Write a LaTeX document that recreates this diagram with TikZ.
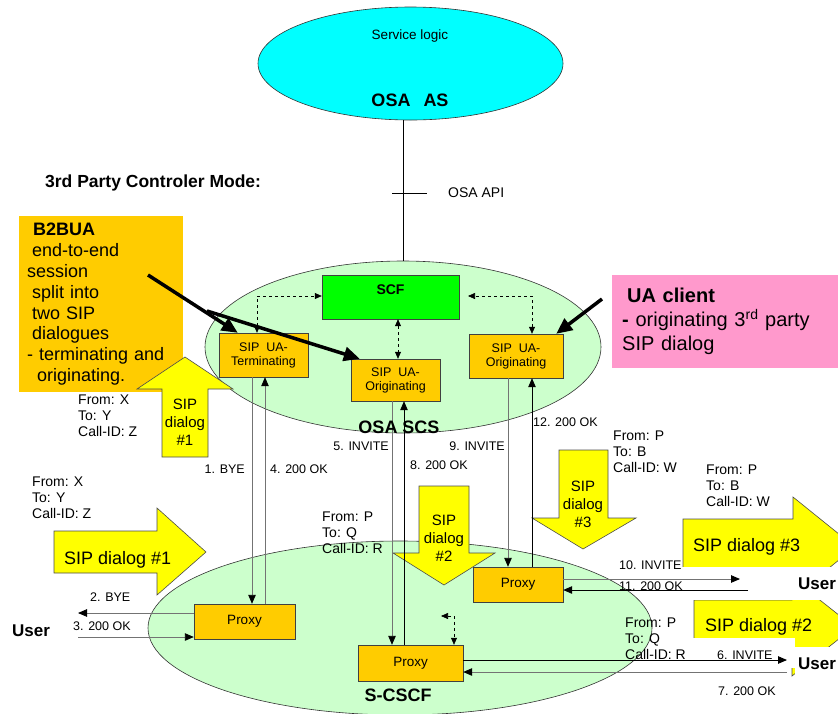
\documentclass[tikz,border=0pt]{standalone}
\usepackage{fontspec}
\setmainfont{Liberation Sans}
\usetikzlibrary{arrows.meta,shapes.geometric}
\definecolor{asblue}{HTML}{00FFFF}
\definecolor{scsgreen}{HTML}{CCFFCC}
\definecolor{scfgreen}{HTML}{00FF00}
\definecolor{uaorange}{HTML}{FFCC00}
\definecolor{sipyellow}{HTML}{FFFF00}
\definecolor{clientpink}{HTML}{FF99CC}
\newcommand\fsz[2]{\fontsize{#1}{#2}\selectfont}

\begin{document}
\begin{tikzpicture}[x=1pt,y=-1pt,
  box/.style={draw=black!75,fill=uaorange,inner sep=0pt,align=center,font=\fsz{12.5}{14}},
  prox/.style={box,font=\fsz{13.5}{15}},
  area/.style={ellipse,draw=black!80,line width=0.6pt,fill=scsgreen,inner sep=0pt},
  lbl/.style={inner sep=0pt,font=\fsz{12.5}{14}},
  hdr/.style={inner sep=0pt,align=left,font=\fsz{14}{16}},
  title/.style={inner sep=0pt,font=\fsz{18}{20}\bfseries},
  usr/.style={inner sep=0pt,anchor=west,font=\fsz{17}{19}\bfseries},
  sipbig/.style={draw=black!70,line width=0.6pt,fill=sipyellow},
  siptxt/.style={inner sep=0pt,align=center,font=\fsz{15}{18}},
  sipwide/.style={inner sep=0pt,anchor=west,font=\fsz{18}{20}},
  sig/.style={draw=black!55,line width=0.9pt,-{Triangle[length=9pt,width=7.5pt,black]}},
  sigk/.style={sig,draw=black},
  dsh/.style={dashed,line width=0.6pt,{Triangle[length=7pt,width=6pt]}-{Triangle[length=7pt,width=6pt]}},
  fat/.style={line width=3.5pt,-{Triangle[length=16pt,width=14pt]}}]

\useasboundingbox (0,0) rectangle (838,713);
\clip (0,0) rectangle (838,713);

% OSA application server
\node[ellipse,draw=black!80,line width=0.6pt,fill=asblue,inner sep=0pt,minimum width=305pt,minimum height=113pt] (as) at (410.5,63.5) {};
\node[lbl,font=\fsz{13.5}{15}] (slogic) at (410,36) {Service logic};
\node[title] (asname) at (410,100) {OSA\hspace{13pt}AS};

\node[inner sep=0pt,anchor=west,font=\fsz{17.5}{20}\bfseries] (mode) at (45,183) {3rd Party Controler Mode:};

% the two green areas
\coordinate (api) at (403,193);
\node[area,minimum width=396pt,minimum height=172pt] (scs) at (403,347) {};
\node[area,minimum width=504pt,minimum height=174pt] (cscf) at (400,628) {};
\draw[line width=0.6pt] (as.south -| api) -- (scs.north -| api);
\draw[line width=0.6pt] ([xshift=-11pt]api) -- ([xshift=24pt]api);
\node[inner sep=0pt,anchor=west,font=\fsz{14}{16}] (apitxt) at (448,193) {OSA API};

% call-outs
\node[fill=uaorange,anchor=north west,minimum width=164pt,minimum height=176pt,text width=148pt,inner xsep=8pt,inner ysep=0pt,align=left,font=\fsz{18}{20.8}] (b2bua) at (19,216)
  {{\bfseries\hspace*{6pt}B2BUA}\\ \hspace*{5pt}end-to-end\\ session\\ \hspace*{5pt}split into\\ \hspace*{5pt}two SIP\\ \hspace*{5pt}dialogues\\ - terminating and\\ \hspace*{10pt}originating.};
\node[fill=clientpink,anchor=north west,minimum width=233pt,minimum height=93pt,text width=213pt,inner xsep=10pt,inner ysep=0pt,align=left,font=\fsz{20}{24}] (client) at (612,275)
  {{\bfseries\hspace*{5pt}UA client}\\ {\bfseries -} originating 3\textsuperscript{rd} party\\ SIP dialog};

% SIP dialog block arrows
\filldraw[sipbig] (162,457) -- (162,389) -- (137,389) -- (185,357) -- (233,389) -- (208,389) -- (208,457) -- cycle;
\filldraw[sipbig] (54,531) -- (157,531) -- (157,508) -- (206,552) -- (157,595) -- (157,573) -- (54,573) -- cycle;
\filldraw[sipbig] (419,486) -- (469,486) -- (469,553) -- (495,553) -- (444,585) -- (393,553) -- (419,553) -- cycle;
\filldraw[sipbig] (559,450) -- (608,450) -- (608,518) -- (636,518) -- (583,549) -- (532,518) -- (559,518) -- cycle;
\filldraw[sipbig] (683,519) -- (793,519) -- (793,497) -- (855,547) -- (793,597) -- (793,575) -- (683,575) -- cycle;
\filldraw[sipbig] (694,600) -- (792,600) -- (792,578) -- (854,627) -- (792,676) -- (792,655) -- (694,655) -- cycle;
\node[siptxt] (d1up) at (185,422) {SIP\\dialog\\\#1};
\node[siptxt] (d2dn) at (444,538) {SIP\\dialog\\\#2};
\node[siptxt] (d3dn) at (583,504) {SIP\\dialog\\\#3};
\node[sipwide] (d1rt) at (64,560) {SIP dialog \#1};
\node[sipwide] (d3rt) at (693,547) {SIP dialog \#3};

\fill[white] (680,567) rectangle (845,600);
\node[sipwide] (d2rt) at (705,627) {SIP dialog \#2};
\fill[white] (680,638) rectangle (795,668);
\fill[white] (795,647) rectangle (845,682);

% functional boxes
\node[box,fill=scfgreen,minimum width=137pt,minimum height=44pt,font=\fsz{14}{16}\bfseries,text height=10pt,text depth=16pt] (scf) at (390.5,297) {SCF};
\node[box,minimum width=89pt,minimum height=44pt] (uaterm) at (263.5,355) {SIP~ UA-\\Terminating};
\node[box,minimum width=89pt,minimum height=42pt] (uaorig) at (395.5,380) {SIP~ UA-\\Originating};
\node[box,minimum width=94pt,minimum height=44pt] (uaorigR) at (516,356) {SIP~ UA-\\Originating};
\node[prox,minimum width=101pt,minimum height=35pt] (proxyL) at (244.5,621.5) {Proxy};
\node[prox,minimum width=90pt,minimum height=35pt] (proxyR) at (518,584.5) {Proxy};
\node[prox,minimum width=105pt,minimum height=36pt] (proxyS) at (410.5,663) {Proxy};

% internal dashed links
\coordinate (dl) at (257,296);
\coordinate (dr) at (532,296);
\coordinate (drs) at (468,296);
\coordinate (dm) at (398,0);
\draw[dsh] (uaterm.north -| dl) -- (dl) -- (scf.west |- dl);
\draw[dsh] (uaorigR.north -| dr) -- (dr) -- (drs);
\draw[dsh] (scf.south -| dm) -- (uaorig.north -| dm);
\coordinate (dsc) at (441,616);
\coordinate (dsx) at (454,616);
\draw[dsh] (dsc) -- (dsx) -- (proxyS.north -| dsx);

% SIP messages
\coordinate (bye) at (252,0);
\coordinate (ok4) at (265,0);
\coordinate (inv5) at (392,0);
\coordinate (ok8) at (404,0);
\coordinate (inv9) at (508,0);
\coordinate (ok12) at (532,0);
\coordinate (bye2) at (78,613);
\coordinate (ok3) at (78,637);
\coordinate (inv10) at (740,579);
\coordinate (ok11) at (748,590);
\coordinate (inv6) at (787,660);
\coordinate (ok7) at (787,672);
\draw[sig] (uaterm.south -| bye) -- (proxyL.north -| bye);
\draw[sig] (proxyL.north -| ok4) -- (uaterm.south -| ok4);
\draw[sig] (uaorig.south -| inv5) -- (proxyS.north -| inv5);
\draw[sigk] (proxyS.north -| ok8) -- (uaorig.south -| ok8);
\draw[sig] (uaorigR.south -| inv9) -- (proxyR.north -| inv9);
\draw[sigk] (proxyR.north -| ok12) -- (uaorigR.south -| ok12);
\draw[sig] (proxyL.west |- bye2) -- (bye2);
\draw[sig] (ok3) -- (proxyL.west |- ok3);
\draw[sig] (proxyR.east |- inv10) -- (inv10);
\draw[sigk] (ok11) -- (proxyR.east |- ok11);
\draw[sigk] (proxyS.east |- inv6) -- (inv6);
\draw[sig] (ok7) -- (proxyS.east |- ok7);

\node[lbl,anchor=east] (m1) at (245,469) {1. BYE};
\node[lbl,anchor=west] (m4) at (270,469) {4. 200 OK};
\node[lbl,anchor=west] (m2) at (90,597) {2. BYE};
\node[lbl,anchor=west] (m3) at (73,626) {3. 200 OK};
\node[lbl,anchor=east] (m5) at (389,446) {5. INVITE};
\node[lbl,anchor=west] (m8) at (410,465) {8. 200 OK};
\node[lbl,anchor=east] (m9) at (505,446) {9. INVITE};
\node[lbl,anchor=west] (m12) at (533,422) {12. 200 OK};
\node[lbl,anchor=west] (m10) at (619,565) {10. INVITE};
\node[lbl,anchor=west] (m11) at (619,586) {11. 200 OK};
\node[lbl,anchor=west] (m6) at (717,655) {6. INVITE};
\node[lbl,anchor=west] (m7) at (718,691) {7. 200 OK};

% dialog identifiers
\node[hdr,anchor=west] (hxa) at (78,416) {From: X\\To: Y\\Call-ID: Z};
\node[hdr,anchor=west] (hxb) at (32,498) {From: X\\To: Y\\Call-ID: Z};
\node[hdr,anchor=west] (hqa) at (322,533) {From: P\\To: Q\\Call-ID: R};
\node[hdr,anchor=west] (hqb) at (625,639) {From: P\\To: Q\\Call-ID: R};
\node[hdr,anchor=west] (hwa) at (613,452) {From: P\\To: B\\Call-ID: W};
\node[hdr,anchor=west] (hwb) at (706,486) {From: P\\To: B\\Call-ID: W};

\node[usr] (userL) at (12,631) {User};
\node[usr] (userB) at (798,584) {User};
\node[usr] (userQ) at (798,664) {User};

% pointers from the call-outs
\coordinate (bq) at (148,275);
\coordinate (bfork) at (207,311);
\coordinate (cq) at (602,299);
\draw[fat] (bq) -- ([xshift=19pt]uaterm.north west);
\draw[fat] (bfork) -- ([xshift=9pt]uaorig.north west);
\draw[fat] (cq) -- ([xshift=-7pt]uaorigR.north east);

\node[title] (scsname) at (399,427) {OSA SCS};
\node[title] (cscfname) at (398,695) {S-CSCF};
\end{tikzpicture}
\end{document}
